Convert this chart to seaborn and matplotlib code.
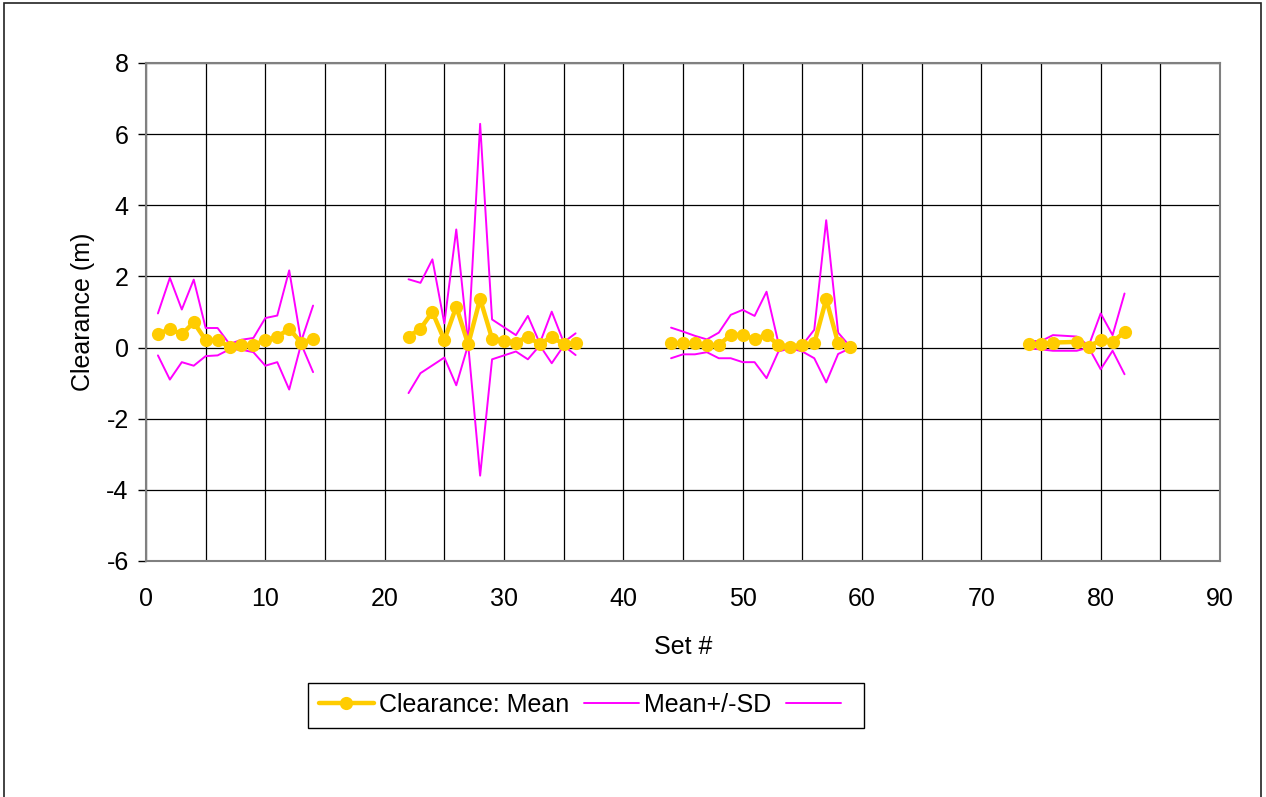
import numpy as np
import pandas as pd
import matplotlib
matplotlib.use("Agg")
import matplotlib.pyplot as plt
import seaborn as sns
from matplotlib.lines import Line2D
from matplotlib.patches import Rectangle

# ---------------- data ----------------
set_no = [1, 2, 3, 4, 5, 6, 7, 8, 9, 10, 11, 12, 13, 14,
          22, 23, 24, 25, 26, 27, 28, 29, 30, 31, 32, 33, 34, 35, 36,
          44, 45, 46, 47, 48, 49, 50, 51, 52, 53, 54, 55, 56, 57, 58, 59,
          74, 75, 76, 78, 79, 80, 81, 82]

clearance_mean = [0.37, 0.53, 0.37, 0.71, 0.21, 0.21, 0.02, 0.07, 0.07, 0.21, 0.30, 0.53, 0.14, 0.24,
                  0.31, 0.53, 1.00, 0.21, 1.15, 0.09, 1.37, 0.25, 0.19, 0.14, 0.31, 0.09, 0.31, 0.09, 0.14,
                  0.12, 0.12, 0.12, 0.07, 0.07, 0.36, 0.36, 0.23, 0.36, 0.07, 0.03, 0.07, 0.12, 1.36, 0.12, 0.03,
                  0.09, 0.09, 0.14, 0.16, 0.03, 0.21, 0.16, 0.44]

mean_plus_sd = [0.96, 1.96, 1.07, 1.91, 0.55, 0.55, 0.10, 0.22, 0.27, 0.83, 0.90, 2.17, 0.17, 1.18,
                1.92, 1.82, 2.48, 0.68, 3.32, 0.10, 6.29, 0.79, 0.57, 0.35, 0.89, 0.12, 1.01, 0.15, 0.40,
                0.56, 0.45, 0.33, 0.23, 0.42, 0.92, 1.06, 0.89, 1.57, 0.12, 0.03, 0.07, 0.50, 3.58, 0.42, 0.03,
                0.19, 0.18, 0.35, 0.31, 0.05, 0.96, 0.35, 1.52]

mean_minus_sd = [-0.22, -0.90, -0.41, -0.51, -0.24, -0.22, -0.05, -0.06, -0.13, -0.51, -0.41, -1.18, 0.10, -0.69,
                 -1.28, -0.72, -0.50, -0.28, -1.06, 0.08, -3.60, -0.33, -0.22, -0.11, -0.33, 0.06, -0.44, 0.05, -0.21,
                 -0.30, -0.19, -0.19, -0.13, -0.30, -0.30, -0.41, -0.41, -0.86, -0.11, -0.02, -0.11, -0.30, -0.98, -0.18, -0.02,
                 -0.03, -0.05, -0.09, -0.09, 0.00, -0.61, -0.09, -0.75]

x_ticks = [0, 10, 20, 30, 40, 50, 60, 70, 80, 90]
y_ticks = [-6, -4, -2, 0, 2, 4, 6, 8]

YELLOW = "#FFCC00"
MAGENTA = "#FF00FF"

# ---------------- style ----------------
sns.set_style("white")
plt.rcParams['font.family'] = ['Liberation Sans', 'DejaVu Sans']
plt.rcParams['font.size'] = 18
plt.rcParams['axes.unicode_minus'] = False
plt.rcParams['text.color'] = 'black'
plt.rcParams['axes.labelcolor'] = 'black'

df = pd.DataFrame({"set": set_no, "mean": clearance_mean,
                   "upper": mean_plus_sd, "lower": mean_minus_sd})
df["segment"] = (df["set"].diff() > 3).cumsum()

fig = plt.figure(figsize=(12.66, 7.97), dpi=100)
ax = fig.add_axes([146 / 1266, 1 - 561 / 797, (1220 - 146) / 1266, (561 - 63) / 797])

for col in ["upper", "lower"]:
    sns.lineplot(data=df, x="set", y=col, units="segment", estimator=None, sort=False,
                 color=MAGENTA, linewidth=1.4, ax=ax, legend=False, zorder=3)
sns.lineplot(data=df, x="set", y="mean", units="segment", estimator=None, sort=False,
             color=YELLOW, linewidth=3.2, marker="o", markersize=9.5, markeredgewidth=0,
             ax=ax, legend=False, zorder=4)

ax.set_xlim(0, 90)
ax.set_ylim(-6, 8)
ax.set_xticks(x_ticks)
ax.set_xticks([5, 15, 25, 35, 45, 55, 65, 75, 85], minor=True)
ax.set_yticks(y_ticks)
ax.grid(True, which="both", axis="x", color="black", linewidth=0.9)
ax.grid(True, which="major", axis="y", color="black", linewidth=0.9)
ax.set_axisbelow(True)

for s in ax.spines.values():
    s.set_visible(True)
    s.set_color("#808080")
    s.set_linewidth(1.5)

ax.tick_params(axis="y", which="major", length=5.5, width=1, color="black", pad=7,
               labelcolor="black", left=True)
ax.tick_params(axis="x", which="both", length=0, pad=19, labelcolor="black")

ax.set_xlabel("Set #", labelpad=17, color="black")
ax.set_ylabel("Clearance (m)", labelpad=8, color="black")

handles = [Line2D([], [], color=YELLOW, linewidth=3.2, marker="o", markersize=9.5, markeredgewidth=0),
           Line2D([], [], color=MAGENTA, linewidth=1.4),
           Line2D([], [], color=MAGENTA, linewidth=1.4)]
labels = ["Clearance: Mean", "Mean+/-SD", " "]
leg = ax.legend(handles, labels, ncol=3, loc="center",
                bbox_to_anchor=(586 / 1266, 1 - 705 / 797), bbox_transform=fig.transFigure,
                frameon=True, fancybox=False, framealpha=1, edgecolor="black",
                handlelength=2.2, handletextpad=0.2, columnspacing=0.6, borderpad=0.42,
                borderaxespad=0, labelcolor="black")
leg.get_frame().set_linewidth(1.0)

fig.patches.append(Rectangle((4 / 1266, -0.02), (1261 - 4) / 1266, 1 - 3 / 797 + 0.02,
                             transform=fig.transFigure, fill=False,
                             edgecolor="#222222", linewidth=1.2))

fig.savefig("out.png", dpi=100)
